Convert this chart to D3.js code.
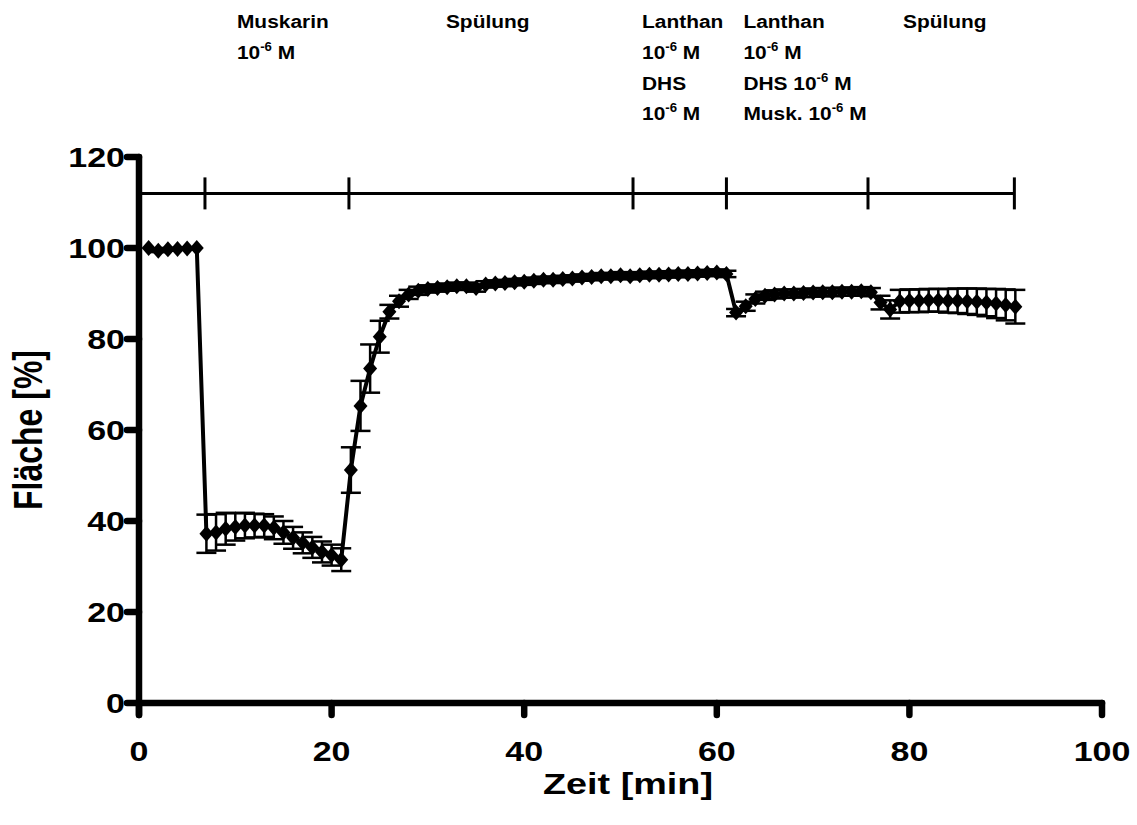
<!DOCTYPE html>
<html>
<head>
<meta charset="utf-8">
<script src="https://cdn.jsdelivr.net/npm/d3@7"></script>
<style>
  html, body { margin: 0; padding: 0; background: #fff; }
  svg { display: block; }
  text { font-family: "Liberation Sans", Arial, sans-serif; font-weight: bold; fill: #000; }
</style>
</head>
<body>
<svg id="chart" width="1137" height="825"></svg>
<script>
// Time points (min)
const times = [
  1, 2, 3, 4, 5, 6, 7, 8, 9, 10,
  11, 12, 13, 14, 15, 16, 17, 18, 19, 20,
  21, 22, 23, 24, 25, 26, 27, 28, 29, 30,
  31, 32, 33, 34, 35, 36, 37, 38, 39, 40,
  41, 42, 43, 44, 45, 46, 47, 48, 49, 50,
  51, 52, 53, 54, 55, 56, 57, 58, 59, 60,
  61, 62, 63, 64, 65, 66, 67, 68, 69, 70,
  71, 72, 73, 74, 75, 76, 77, 78, 79, 80,
  81, 82, 83, 84, 85, 86, 87, 88, 89, 90,
  91
];

// Mean area (% of baseline)
const area = [
  100, 99.4, 99.7, 99.8, 99.9, 100, 37.2, 37.5, 38.3, 38.7,
  39.0, 39.0, 39.0, 38.5, 37.5, 36.3, 35.2, 34.2, 33.2, 32.5,
  31.5, 51.2, 65.3, 73.5, 80.5, 86.0, 88.3, 89.8, 90.6, 91.0,
  91.2, 91.4, 91.6, 91.6, 91.2, 92.0, 92.2, 92.3, 92.5, 92.6,
  92.8, 93.0, 93.0, 93.2, 93.3, 93.5, 93.6, 93.8, 93.8, 94.0,
  93.8, 94.0, 94.1, 94.1, 94.2, 94.3, 94.3, 94.4, 94.5, 94.6,
  94.3, 85.8, 87.2, 88.8, 89.5, 89.8, 90.0, 90.0, 90.1, 90.2,
  90.3, 90.3, 90.4, 90.4, 90.5, 90.3, 88.0, 86.5, 88.3, 88.4,
  88.4, 88.5, 88.5, 88.4, 88.4, 88.3, 88.2, 88.0, 87.8, 87.5,
  87.1
];

// Standard error of the mean
const sem = [
  0, 0.3, 0.3, 0.2, 0.2, 0, 4.2, 4.0, 3.5, 3.0,
  2.8, 2.6, 2.5, 2.5, 2.5, 2.4, 2.3, 2.3, 2.3, 2.3,
  2.5, 5.0, 5.5, 5.3, 3.5, 1.5, 1.2, 1.0, 0.9, 0.8,
  0.8, 0.8, 0.8, 0.8, 0.8, 0.7, 0.7, 0.7, 0.7, 0.7,
  0.7, 0.7, 0.7, 0.7, 0.7, 0.7, 0.7, 0.7, 0.7, 0.7,
  0.7, 0.7, 0.7, 0.7, 0.7, 0.7, 0.7, 0.7, 0.7, 0.7,
  0.7, 0.8, 1.0, 1.0, 0.9, 0.9, 0.9, 0.9, 0.9, 0.9,
  0.9, 0.9, 0.9, 0.9, 0.9, 0.9, 1.5, 2.0, 2.5, 2.5,
  2.5, 2.5, 2.5, 2.6, 2.7, 2.8, 2.9, 3.0, 3.2, 3.4,
  3.7
];

// Treatment phase boundaries (min) and bracket level (%)
const phaseBounds = [0, 6.85, 21.8, 51.3, 61.0, 75.7, 90.9];
const bracketLevel = 112;

// Phase labels: each is a list of lines; a line is [text, superscript, rest]
const phaseLabels = [
  { start: 6.85, lines: [["Muskarin"], ["10", "-6", " M"]] },
  { start: 21.8, lines: [["Spülung"]] },
  { start: 51.3, lines: [["Lanthan"], ["10", "-6", " M"], ["DHS"], ["10", "-6", " M"]] },
  { start: 61.0, lines: [["Lanthan"], ["10", "-6", " M"], ["DHS 10", "-6", " M"], ["Musk. 10", "-6", " M"]] },
  { start: 75.7, lines: [["Spülung"]] }
];
const labelOffsets = [32, 97, 9, 17, 35];

const xTicks = [0, 20, 40, 60, 80, 100];
const yTicks = [0, 20, 40, 60, 80, 100, 120];
const xTitle = "Zeit [min]";
const yTitle = "Fläche [%]";

const data = times.map((t, i) => ({ t, v: area[i], e: sem[i] }));

const svg = d3.select("#chart");
const x = d3.scaleLinear().domain([0, 100]).range([139, 1102]);
const y = d3.scaleLinear().domain([0, 120]).range([703, 157]);

const stretch = 1.26;   // wide lettering of the axis texts

// Axes
const axisW = 6.5;
const tickLen = 12;
const gx = svg.append("g");
gx.append("line")
  .attr("x1", x(0)).attr("x2", x(100)).attr("y1", y(0)).attr("y2", y(0))
  .attr("stroke", "#000").attr("stroke-width", axisW).attr("stroke-linecap", "round");
gx.selectAll("line.tick").data(xTicks).join("line")
  .attr("class", "tick")
  .attr("x1", d => x(d)).attr("x2", d => x(d))
  .attr("y1", y(0)).attr("y2", y(0) + tickLen)
  .attr("stroke", "#000").attr("stroke-width", axisW).attr("stroke-linecap", "round");
gx.selectAll("text").data(xTicks).join("text")
  .attr("transform", d => `translate(${x(d)},761) scale(${stretch},1)`)
  .attr("text-anchor", "middle")
  .attr("font-size", 27)
  .text(d => d);

const gy = svg.append("g");
gy.append("line")
  .attr("x1", x(0)).attr("x2", x(0)).attr("y1", y(120)).attr("y2", y(0) + tickLen)
  .attr("stroke", "#000").attr("stroke-width", axisW).attr("stroke-linecap", "round");
gy.selectAll("line.tick").data(yTicks).join("line")
  .attr("class", "tick")
  .attr("x1", x(0) - tickLen).attr("x2", x(0))
  .attr("y1", d => y(d)).attr("y2", d => y(d))
  .attr("stroke", "#000").attr("stroke-width", axisW).attr("stroke-linecap", "round");
gy.selectAll("text").data(yTicks).join("text")
  .attr("transform", d => `translate(125,${y(d) + 10}) scale(${stretch},1)`)
  .attr("text-anchor", "end")
  .attr("font-size", 27)
  .text(d => d);

// Axis titles
svg.append("text")
  .attr("transform", `translate(628,794) scale(${stretch},1)`)
  .attr("text-anchor", "middle")
  .attr("font-size", 30)
  .text(xTitle);
svg.append("text")
  .attr("transform", `translate(42,430) scale(${stretch},1) rotate(-90)`)
  .attr("text-anchor", "middle")
  .attr("font-size", 32)
  .text(yTitle);

// Phase bracket
const gb = svg.append("g");
gb.append("line")
  .attr("x1", x(phaseBounds[0])).attr("x2", x(phaseBounds[phaseBounds.length - 1]))
  .attr("y1", y(bracketLevel)).attr("y2", y(bracketLevel))
  .attr("stroke", "#000").attr("stroke-width", 3);
gb.selectAll("line.tick").data(phaseBounds.slice(1)).join("line")
  .attr("class", "tick")
  .attr("x1", d => x(d)).attr("x2", d => x(d))
  .attr("y1", y(bracketLevel) - 16).attr("y2", y(bracketLevel) + 16)
  .attr("stroke", "#000").attr("stroke-width", 3);

// Phase labels
const lineBase = [28, 59, 90, 120];
phaseLabels.forEach((p, i) => {
  p.lines.forEach((ln, j) => {
    const t = svg.append("text")
      .attr("transform", `translate(${x(p.start) + labelOffsets[i]},${lineBase[j]}) scale(1.1,1)`)
      .attr("font-size", 19);
    t.append("tspan").text(ln[0]);
    if (ln.length > 1) {
      t.append("tspan").attr("font-size", 12).attr("dy", -8).text(ln[1]);
      t.append("tspan").attr("dy", 8).text(ln[2]);
    }
  });
});

// Error bars
const cap = 10;
const ge = svg.append("g").attr("stroke", "#000").attr("stroke-width", 2.5);
const eb = ge.selectAll("g").data(data.filter(d => d.e > 0)).join("g");
eb.append("line")
  .attr("x1", d => x(d.t)).attr("x2", d => x(d.t))
  .attr("y1", d => y(d.v - d.e)).attr("y2", d => y(d.v + d.e));
eb.append("line")
  .attr("x1", d => x(d.t) - cap).attr("x2", d => x(d.t) + cap)
  .attr("y1", d => y(d.v + d.e)).attr("y2", d => y(d.v + d.e));
eb.append("line")
  .attr("x1", d => x(d.t) - cap).attr("x2", d => x(d.t) + cap)
  .attr("y1", d => y(d.v - d.e)).attr("y2", d => y(d.v - d.e));

// Mean line
svg.append("path")
  .datum(data)
  .attr("fill", "none")
  .attr("stroke", "#000")
  .attr("stroke-width", 4)
  .attr("stroke-linejoin", "round")
  .attr("d", d3.line().x(d => x(d.t)).y(d => y(d.v)));

// Diamond markers
const diamond = "M0,-8L7,0L0,8L-7,0Z";
svg.append("g").selectAll("path").data(data).join("path")
  .attr("transform", d => `translate(${x(d.t)},${y(d.v)})`)
  .attr("d", diamond)
  .attr("fill", "#000");
</script>
</body>
</html>
